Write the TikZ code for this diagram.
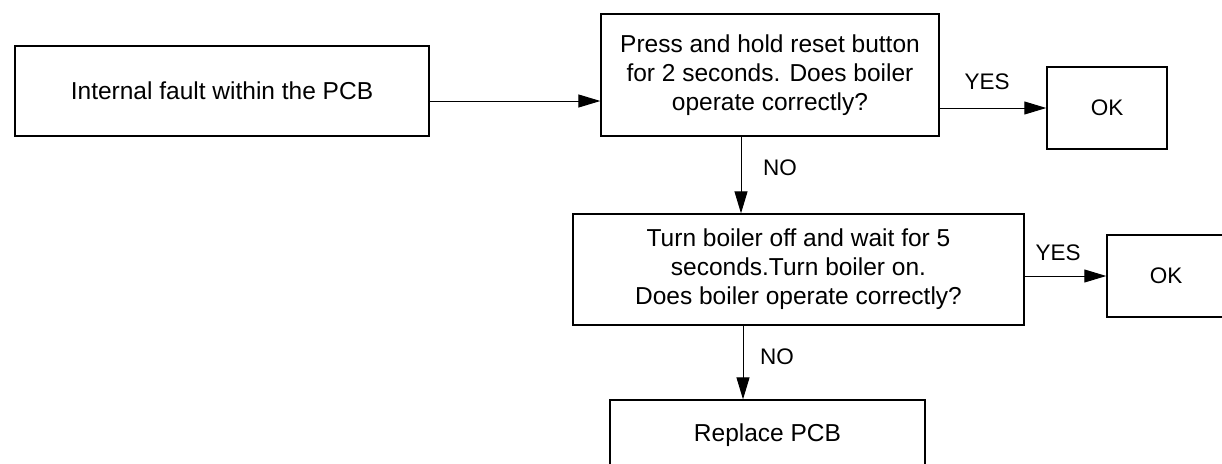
\documentclass[tikz,border=0pt]{standalone}
\usepackage{fontspec}
\setmainfont{Liberation Sans}
\usetikzlibrary{arrows.meta,calc}
\begin{document}
\begin{tikzpicture}[x=1pt,y=-1pt,
  box/.style={draw,line width=1.3pt,inner sep=0pt,align=center,
    font=\fontsize{24.5pt}{29pt}\selectfont},
  okbox/.style={draw,line width=1.5pt,inner sep=0pt,align=center,
    font=\fontsize{22.5pt}{27pt}\selectfont},
  arr/.style={line width=1pt,-{Triangle[length=22pt,width=13pt]}},
  lbl/.style={font=\fontsize{22.5pt}{27pt}\selectfont,inner sep=0pt}]
\useasboundingbox (0,0) rectangle (1222,463);
\clip (0,0) rectangle (1222,463);
\node[box,minimum width=414pt,minimum height=90pt] (b1) at (222,91) {Internal fault within the PCB};
\node[box,minimum width=338pt,minimum height=122pt] (b2) at (770,75) {Press and hold reset button\\for 2 seconds. Does boiler\\operate correctly?};
\node[okbox,minimum width=120pt,minimum height=82pt] (ok1) at (1107,108) {OK};
\node[box,minimum width=451pt,minimum height=111pt] (b3) at (798.5,269.5) {Turn boiler off and wait for 5\\seconds.Turn boiler on.\\Does boiler operate correctly?};
\node[okbox,minimum width=118pt,minimum height=82pt] (ok2) at (1166,276) {OK};
\node[box,minimum width=315pt,minimum height=70pt] (b4) at (767.5,435) {Replace PCB};
% connectors
\draw[arr] ($(b1.east)+(0,10)$) coordinate (s1) -- (s1 -| b2.west);
\draw[arr] (ok1.west -| b2.east) -- (ok1.west);
\node[lbl] (y1) at (987,82) {YES};
\draw[arr] ($(b2.south)+(-29,0)$) coordinate (s3) -- (s3 |- b3.north);
\node[lbl] (n1) at (780,168) {NO};
\draw[arr] (ok2.west -| b3.east) -- (ok2.west);
\node[lbl] (y2) at (1058,253) {YES};
\draw[arr] ($(b3.south)+(-55.5,0)$) coordinate (s4) -- (s4 |- b4.north);
\node[lbl] (n2) at (777,357) {NO};
\end{tikzpicture}
\end{document}
